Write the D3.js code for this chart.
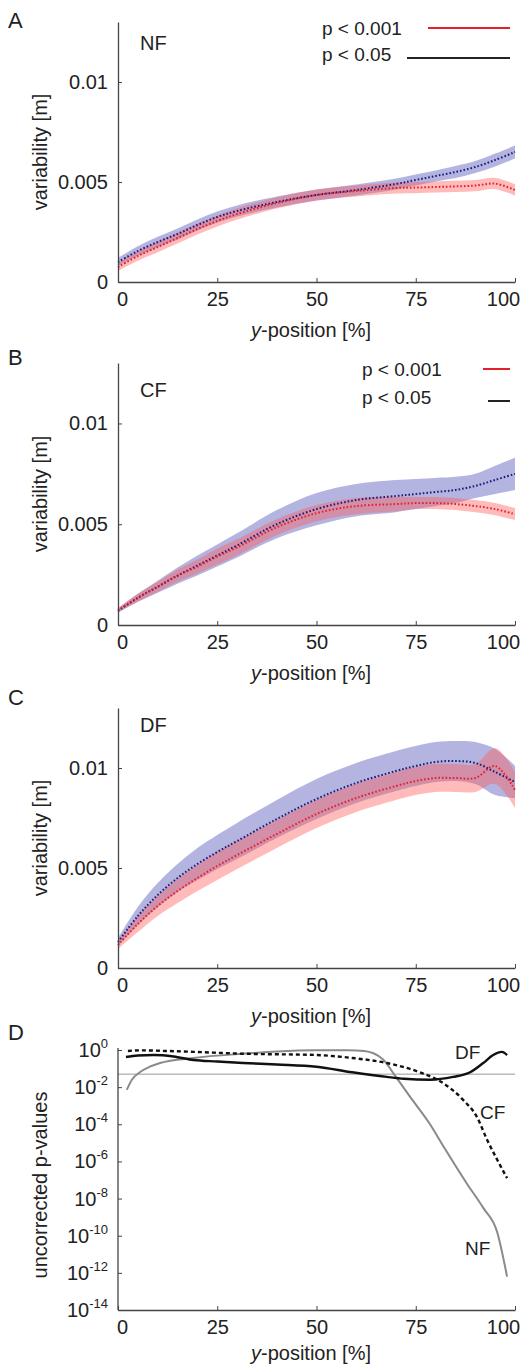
<!DOCTYPE html>
<html>
<head>
<meta charset="utf-8">
<script src="https://cdn.jsdelivr.net/npm/d3@7"></script>
<style>
  body { margin: 0; background: #fff; }
  text { font-family: "Liberation Sans", Arial, sans-serif; fill: #222; }
</style>
</head>
<body>
<div id="chart"></div>
<script>
// x grid shared by panels A-C (y-position in %)
var xGrid = [0, 5, 10, 15, 20, 25, 30, 40, 50, 60, 70, 75, 80, 85, 90, 95, 100]

// variability in mm (x1e-3 m), blue = mean, red = mean, half = band half width
var nfBlue = [1.0, 1.55, 2.0, 2.4, 2.85, 3.25, 3.55, 4.0, 4.35, 4.6, 4.9, 5.1, 5.3, 5.5, 5.75, 6.1, 6.5]
var nfRed  = [0.75, 1.3, 1.75, 2.2, 2.65, 3.05, 3.4, 3.95, 4.35, 4.55, 4.7, 4.72, 4.75, 4.78, 4.82, 4.92, 4.6]
var nfBlueHalf = [0.2, 0.24, 0.26, 0.28, 0.28, 0.28, 0.28, 0.28, 0.28, 0.28, 0.28, 0.28, 0.28, 0.3, 0.3, 0.32, 0.32]
var nfRedHalf  = [0.2, 0.24, 0.26, 0.28, 0.28, 0.28, 0.28, 0.28, 0.28, 0.28, 0.28, 0.28, 0.28, 0.28, 0.28, 0.28, 0.28]

var cfBlue = [0.7, 1.35, 1.9, 2.45, 2.95, 3.45, 3.95, 5.0, 5.75, 6.2, 6.4, 6.5, 6.6, 6.7, 6.9, 7.2, 7.5]
var cfRed  = [0.75, 1.35, 1.9, 2.45, 2.9, 3.4, 3.85, 4.85, 5.55, 5.9, 6.0, 6.05, 6.05, 6.0, 5.9, 5.75, 5.5]
var cfBlueHalf = [0.1, 0.2, 0.3, 0.4, 0.5, 0.55, 0.6, 0.7, 0.8, 0.8, 0.8, 0.75, 0.7, 0.65, 0.6, 0.7, 0.8]
var cfRedHalf  = [0.1, 0.2, 0.25, 0.3, 0.35, 0.4, 0.4, 0.4, 0.4, 0.4, 0.35, 0.3, 0.3, 0.3, 0.3, 0.3, 0.3]

var dfBlue = [1.3, 2.6, 3.65, 4.5, 5.2, 5.8, 6.35, 7.45, 8.45, 9.25, 9.85, 10.1, 10.3, 10.35, 10.25, 9.8, 9.3]
var dfRed  = [1.15, 2.2, 3.1, 3.85, 4.5, 5.1, 5.65, 6.7, 7.7, 8.5, 9.1, 9.35, 9.5, 9.5, 9.5, 10.1, 8.9]
var dfBlueHalf = [0.2, 0.45, 0.6, 0.7, 0.8, 0.85, 0.9, 0.95, 1.0, 1.0, 1.0, 1.0, 1.0, 1.0, 1.05, 1.15, 0.8]
var dfRedHalf  = [0.2, 0.4, 0.5, 0.6, 0.65, 0.7, 0.7, 0.7, 0.7, 0.7, 0.7, 0.7, 0.7, 0.7, 0.7, 0.9, 0.9]

// panel D: uncorrected p-values, stored as log10(p)
var dfPx = [2, 5, 9, 14, 19, 25, 31.5, 40, 50, 59, 67.7, 72, 78.6, 84.4, 88.7, 92, 94.5, 96.7, 98]
var dfPlog = [-0.38, -0.3, -0.27, -0.35, -0.54, -0.62, -0.7, -0.78, -0.9, -1.2, -1.45, -1.55, -1.6, -1.45, -1.2, -0.7, -0.27, -0.1, -0.27]
var cfPx = [2.5, 5.5, 12, 19, 31.5, 50, 59, 67.7, 76, 82, 87, 90.4, 93, 95.5, 98]
var cfPlog = [-0.05, -0.02, -0.05, -0.1, -0.2, -0.27, -0.43, -0.7, -1.2, -1.8, -2.7, -3.6, -4.85, -5.9, -6.9]
var nfPx = [2.2, 3.5, 5.5, 8, 10.6, 19, 31.5, 40, 50, 58, 62, 66.7, 70, 73.5, 78.6, 82, 87.9, 92, 95.5, 98]
var nfPlog = [-2.15, -1.6, -1.2, -0.9, -0.7, -0.43, -0.2, -0.08, -0.02, -0.02, -0.06, -0.5, -1.45, -2.5, -4.0, -5.2, -7.2, -8.5, -9.8, -12.2]
var pThreshold = 0.05

var xTicks = [0, 25, 50, 75, 100]
var varTicks = [0, 0.005, 0.01]
var pTicks = [0, -2, -4, -6, -8, -10, -12, -14]

var svgWidth = 522
var svgHeight = 1366
var left = 118
var right = 515

var svg = d3.select('#chart').append('svg')
  .attr('width', svgWidth)
  .attr('height', svgHeight)

svg.append('rect').attr('width', svgWidth).attr('height', svgHeight).attr('fill', '#fff')

var x = d3.scaleLinear().domain([0, 100]).range([left, right])

function xAxisAt(y0, labelY) {
  var g = svg.append('g')
    .attr('transform', `translate(0, ${y0})`)
    .call(d3.axisBottom(x).tickValues(xTicks).tickSizeInner(-4).tickSizeOuter(0).tickPadding(10))
  g.select('.domain').attr('stroke', '#444').attr('stroke-width', 1.3)
  g.selectAll('.tick line').attr('stroke', '#444')
  g.selectAll('.tick text').attr('font-size', 20).attr('fill', '#222')
    .attr('font-family', '"Liberation Sans", Arial, sans-serif')
  g.selectAll('.tick text').filter(d => d === 100).attr('x', -12)
  g.selectAll('.tick text').filter(d => d === 0).attr('x', 4)

  var t = svg.append('text')
    .attr('x', 311)
    .attr('y', labelY)
    .attr('text-anchor', 'middle')
    .attr('font-size', 20)
  t.append('tspan').attr('font-style', 'italic').text('y')
  t.append('tspan').text('-position [%]')
}

function variabilityPanel(top, y0, letter, letterY, name, nameY, blue, blueHalf, red, redHalf) {
  var y = d3.scaleLinear().domain([0, 0.013]).range([y0, top])

  var band = d3.area()
    .x((d, i) => x(xGrid[i]))
    .y0(d => y(d[0] / 1000))
    .y1(d => y(d[1] / 1000))
    .curve(d3.curveCatmullRom)
  var line = d3.line()
    .x((d, i) => x(xGrid[i]))
    .y(d => y(d / 1000))
    .curve(d3.curveCatmullRom)

  svg.append('path')
    .datum(blue.map((v, i) => [v - blueHalf[i], v + blueHalf[i]]))
    .attr('d', band)
    .attr('fill', '#6a6ac4')
    .attr('fill-opacity', 0.5)
  svg.append('path')
    .datum(red.map((v, i) => [v - redHalf[i], v + redHalf[i]]))
    .attr('d', band)
    .attr('fill', '#ff5a5a')
    .attr('fill-opacity', 0.42)
  svg.append('path')
    .datum(blue)
    .attr('d', line)
    .attr('fill', 'none')
    .attr('stroke', '#1c1c78')
    .attr('stroke-width', 2)
    .attr('stroke-dasharray', '1.6,2')
  svg.append('path')
    .datum(red)
    .attr('d', line)
    .attr('fill', 'none')
    .attr('stroke', '#e3202c')
    .attr('stroke-width', 2)
    .attr('stroke-dasharray', '1.6,2')

  var g = svg.append('g')
    .attr('transform', `translate(${left}, 0)`)
    .call(d3.axisLeft(y).tickValues(varTicks).tickSizeInner(-4).tickSizeOuter(0).tickPadding(10)
      .tickFormat(d => d === 0 ? '0' : String(d)))
  g.select('.domain').attr('stroke', '#444').attr('stroke-width', 1.3)
  g.selectAll('.tick line').attr('stroke', '#444')
  g.selectAll('.tick text').attr('font-size', 20).attr('fill', '#222')
    .attr('font-family', '"Liberation Sans", Arial, sans-serif')

  xAxisAt(y0, y0 + 55)

  svg.append('text')
    .attr('transform', `translate(47, ${(top + y0) / 2}) rotate(-90)`)
    .attr('text-anchor', 'middle')
    .attr('font-size', 20)
    .text('variability [m]')

  svg.append('text').attr('x', 8).attr('y', letterY).attr('font-size', 22).text(letter)
  svg.append('text').attr('x', 140).attr('y', nameY).attr('font-size', 20).text(name)
}

variabilityPanel(22, 282, 'A', 28, 'NF', 50, nfBlue, nfBlueHalf, nfRed, nfRedHalf)
variabilityPanel(363, 625, 'B', 365, 'CF', 397, cfBlue, cfBlueHalf, cfRed, cfRedHalf)
variabilityPanel(708, 968, 'C', 705, 'DF', 732, dfBlue, dfBlueHalf, dfRed, dfRedHalf)

// legends in A and B
function legend(textX, yRed, yBlack, redX0, blackX0) {
  svg.append('text').attr('x', textX).attr('y', yRed + 7).attr('font-size', 19).text('p < 0.001')
  svg.append('text').attr('x', textX).attr('y', yBlack + 7).attr('font-size', 19).text('p < 0.05')
  svg.append('line').attr('x1', redX0).attr('x2', 510).attr('y1', yRed).attr('y2', yRed)
    .attr('stroke', '#e3202c').attr('stroke-width', 2)
  svg.append('line').attr('x1', blackX0).attr('x2', 510).attr('y1', yBlack + 4).attr('y2', yBlack + 4)
    .attr('stroke', '#222').attr('stroke-width', 2)
}
legend(322, 28, 54, 428, 407)
legend(362, 369, 397, 483, 488)

// panel D
var pTop = 1050
var pBottom = 1310
var yp = d3.scaleLog().domain([1e-14, 1]).range([pBottom, pTop])

var pLine = d3.line()
  .x(d => x(d[0]))
  .y(d => yp(Math.pow(10, d[1])))
  .curve(d3.curveMonotoneX)

svg.append('line')
  .attr('x1', x(0)).attr('x2', x(100))
  .attr('y1', yp(pThreshold)).attr('y2', yp(pThreshold))
  .attr('stroke', '#999').attr('stroke-width', 1)

svg.append('path')
  .datum(nfPx.map((v, i) => [v, nfPlog[i]]))
  .attr('d', pLine)
  .attr('fill', 'none').attr('stroke', '#8a8a8a').attr('stroke-width', 2)
svg.append('path')
  .datum(cfPx.map((v, i) => [v, cfPlog[i]]))
  .attr('d', pLine)
  .attr('fill', 'none').attr('stroke', '#111').attr('stroke-width', 2.4)
  .attr('stroke-dasharray', '4,3')
svg.append('path')
  .datum(dfPx.map((v, i) => [v, dfPlog[i]]))
  .attr('d', pLine)
  .attr('fill', 'none').attr('stroke', '#111').attr('stroke-width', 2.4)

var gp = svg.append('g')
  .attr('transform', `translate(${left}, 0)`)
  .call(d3.axisLeft(yp).tickValues(pTicks.map(e => Math.pow(10, e))).tickSizeInner(-4).tickSizeOuter(0)
    .tickPadding(10).tickFormat(''))
gp.select('.domain').attr('stroke', '#444').attr('stroke-width', 1.3).attr('d', `M0,${pBottom}V${pTop - 2}`)
gp.selectAll('.tick line').attr('stroke', '#444')

pTicks.forEach(function (e) {
  var t = svg.append('text')
    .attr('x', 108)
    .attr('y', yp(Math.pow(10, e)) + 7)
    .attr('text-anchor', 'end')
    .attr('font-size', 20)
  t.append('tspan').text('10')
  t.append('tspan').attr('dy', -9).attr('font-size', 13).text(String(e))
})

xAxisAt(pBottom, pBottom + 50)

svg.append('text')
  .attr('transform', `translate(47, 1185) rotate(-90)`)
  .attr('text-anchor', 'middle')
  .attr('font-size', 20)
  .text('uncorrected p-values')

svg.append('text').attr('x', 8).attr('y', 1040).attr('font-size', 22).text('D')
svg.append('text').attr('x', 455).attr('y', 1059).attr('font-size', 19).text('DF')
svg.append('text').attr('x', 480).attr('y', 1119).attr('font-size', 19).text('CF')
svg.append('text').attr('x', 465).attr('y', 1255).attr('font-size', 19).text('NF')
</script>
</body>
</html>
